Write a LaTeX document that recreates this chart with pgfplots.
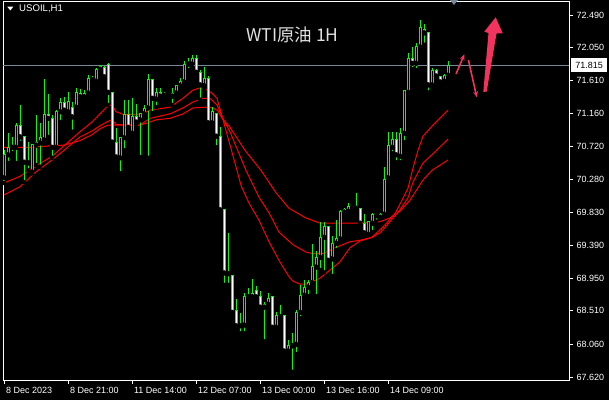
\documentclass[border=0pt]{standalone}
\usepackage{pgfplots}
\pgfplotsset{compat=1.18}
\usepackage{pgfplotstable}
\usepackage{fontspec}
\setmainfont{Liberation Sans}
\newfontfamily\cjk{Noto Sans CJK SC}
\usetikzlibrary{arrows.meta}

\definecolor{candle}{HTML}{00FF00}
\definecolor{maline}{HTML}{FF0000}
\definecolor{bidline}{HTML}{778899}
\definecolor{pen}{HTML}{F2335E}

% hourly candles, rising (close >= open)
\pgfplotstableread{
i O H L C
0 70.30 70.67 70.23 70.61
1 70.61 70.90 70.50 70.71
2 70.71 70.85 70.63 70.74
3 70.71 71.04 70.50 71.01
7 70.38 70.75 70.36 70.75
8 70.74 71.15 70.47 70.77
9 70.77 71.04 70.45 70.84
10 70.81 71.63 70.81 71.15
13 70.71 71.21 70.70 71.19
14 71.19 71.37 71.05 71.31
16 71.19 71.45 71.15 71.32
18 71.25 71.51 71.24 71.45
20 71.39 71.48 71.35 71.44
21 71.44 71.68 71.41 71.64
22 71.62 71.67 71.59 71.63
23 71.60 71.78 71.59 71.76
24 71.76 71.82 71.74 71.80
29 70.57 70.84 70.36 70.84
30 70.84 71.35 70.67 71.15
32 70.90 71.37 70.89 71.13
34 71.08 71.17 70.58 71.16
35 71.16 71.28 71.15 71.23
36 71.24 71.70 70.57 71.62
38 71.36 71.51 71.25 71.45
40 71.41 71.45 71.37 71.43
41 71.43 71.45 71.39 71.44
42 71.40 71.51 71.28 71.44
43 71.44 71.55 71.39 71.54
44 71.54 71.64 71.48 71.59
45 71.59 71.87 71.58 71.83
46 71.83 71.91 71.75 71.84
47 71.83 71.95 71.78 71.90
50 71.54 71.79 71.49 71.63
52 71.04 71.25 71.01 71.19
60 68.32 68.75 68.21 68.70
61 68.70 68.82 68.66 68.72
62 68.70 68.94 68.68 68.75
65 68.56 68.63 68.10 68.60
66 68.60 68.75 68.56 68.68
68 68.29 68.49 68.28 68.45
71 67.97 68.12 67.93 68.04
72 68.04 68.21 67.69 68.06
73 68.06 68.52 67.93 68.49
74 68.49 68.86 68.41 68.72
75 68.72 68.93 68.70 68.82
76 68.83 68.93 68.71 68.89
77 68.89 69.41 68.83 69.11
78 69.10 69.32 68.71 69.23
79 69.23 69.71 69.06 69.50
80 69.50 69.71 69.03 69.64
82 69.21 69.52 68.98 69.42
83 69.42 69.73 69.33 69.48
84 69.48 69.87 69.44 69.85
85 69.84 69.89 69.83 69.88
86 69.85 69.96 69.83 69.91
87 69.89 69.92 69.84 69.91
88 69.89 70.10 69.88 69.92
91 69.54 69.71 69.53 69.71
92 69.69 69.83 69.57 69.80
93 69.79 69.83 69.71 69.80
94 69.77 69.83 69.76 69.81
95 69.81 70.45 69.80 70.28
96 70.30 70.92 70.27 70.73
97 70.71 70.92 70.63 70.82
99 70.59 70.97 70.51 70.90
100 70.90 71.47 70.78 71.47
101 71.45 71.98 71.44 71.91
103 71.84 72.11 71.75 72.06
104 72.06 72.42 72.02 72.32
107 71.55 71.78 71.51 71.75
110 71.60 71.70 71.59 71.68
111 71.68 71.87 71.67 71.815
}\bulls

% hourly candles, falling (close < open)
\pgfplotstableread{
i O H L C
4 71.01 71.28 70.77 70.85
5 70.86 70.86 70.24 70.51
6 70.51 70.78 70.40 70.50
11 71.15 71.43 70.85 71.10
12 71.10 71.15 70.57 70.71
15 71.31 71.39 71.17 71.21
17 71.25 71.32 70.92 71.12
19 71.44 71.49 71.35 71.39
25 71.79 71.80 71.64 71.66
26 71.82 71.84 71.28 71.45
27 71.45 71.45 70.78 70.78
28 70.78 70.97 70.57 70.58
31 71.15 71.35 70.97 70.98
33 71.13 71.29 71.02 71.05
37 71.62 71.62 71.17 71.37
39 71.45 71.51 71.37 71.40
48 71.90 71.95 71.71 71.72
49 71.71 71.75 71.35 71.55
51 71.64 71.67 71.04 71.04
53 71.17 71.17 70.71 70.86
54 70.86 70.98 69.83 69.87
55 69.87 69.88 68.86 69.02
56 69.02 69.56 68.86 69.01
57 68.99 68.99 68.47 68.49
58 68.51 68.67 68.27 68.31
59 68.32 68.48 68.21 68.31
63 68.78 68.84 68.67 68.70
64 68.71 68.78 68.55 68.56
67 68.70 68.70 68.28 68.29
69 68.45 68.59 68.40 68.43
70 68.45 68.45 67.96 67.97
81 69.65 69.65 69.18 69.19
89 69.89 69.89 69.68 69.69
90 69.69 69.81 69.54 69.56
98 70.82 70.92 70.51 70.61
102 71.90 72.06 71.76 71.84
105 72.30 72.37 72.09 72.25
106 72.25 72.26 71.45 71.55
108 71.74 71.76 71.66 71.67
109 71.66 71.67 71.56 71.59
}\bears

\pgfplotsset{
  candle part/.style 2 args={only marks, mark=none, forget plot,
    error bars/.cd, y dir=plus, y explicit, error mark=none,
    error bar style={draw=#1, line width=#2, solid}},
}

\begin{document}
\begin{tikzpicture}
\fill[black] (0,0) rectangle (609pt,400pt);
\begin{axis}[
  at={(3pt,20pt)}, anchor=south west,
  scale only axis, width=566pt, height=379pt,
  xmin=-0.25, xmax=141.25, ymin=67.580, ymax=72.678,
  clip=false,
  axis background/.style={fill=black},
  axis line style={white, line width=1pt},
  tick align=outside, major tick length=4pt,
  tick style={white, line width=1pt},
  xtick pos=lower, ytick pos=upper, yticklabel pos=upper,
  xtick={0,16,32,48,64,80,96},
  xticklabels={8 Dec 2023, 8 Dec 21:00, 11 Dec 14:00, 12 Dec 07:00, 13 Dec 00:00, 13 Dec 16:00, 14 Dec 09:00},
  ytick={67.62,68.06,68.51,68.95,69.39,69.83,70.28,70.72,71.16,71.61,72.05,72.49},
  yticklabels={67.620,68.060,68.510,68.950,69.390,69.830,70.280,70.720,71.160,71.610,72.050,72.490},
  ticklabel style={font=\fontsize{9}{10}\selectfont, text=white},
  xticklabel style={anchor=north west, xshift=-1.5pt},
  yticklabel style={anchor=west},
]
% bid line
\addplot[bidline, line width=1pt, forget plot] coordinates {(-0.25,71.815) (141.25,71.815)};

% moving averages (fast, medium, slow)
\addplot[maline, line width=1pt, forget plot] coordinates {
(0,70.23) (4,70.32) (8,70.46) (12,70.59) (15,70.73) (19,70.92) (22,71.05) (24,71.16) (26,71.27) (27,71.28) (28,71.19) (30,71.15) (33,71.15) (35,71.17) (36.5,71.21) (39,71.23) (41.5,71.25) (44.75,71.37) (47.25,71.48) (49,71.51) (50.5,71.49) (52,71.44) (53.25,71.37) (54.5,71.13) (56,70.84) (58.25,70.40) (59.25,70.20) (61.25,69.96) (63.75,69.73) (66.25,69.44) (68.75,69.19) (71.25,68.97) (72.25,68.91) (74,68.87) (75.5,68.87) (77,68.90) (79,68.95) (81.5,69.06) (84,69.17) (86.5,69.36) (89,69.45) (92,69.50) (94,69.60) (96,69.71) (98,69.84) (99.5,70.00) (101,70.16) (102.25,70.43) (103.5,70.67) (104.75,70.86) (107.25,71.01) (111,71.21)};
\addplot[maline, line width=1pt, forget plot] coordinates {
(0,70.07) (4,70.18) (8,70.38) (12,70.54) (15,70.67) (19,70.85) (22,70.93) (24,71.00) (26,71.06) (27,71.08) (28,71.02) (30,71.01) (34,71.01) (36.5,71.10) (41.5,71.16) (44.75,71.24) (47.25,71.32) (49.75,71.37) (51.5,71.37) (53.25,71.28) (54.5,71.12) (56.5,70.92) (60.5,70.40) (63.75,70.04) (66.25,69.83) (68.75,69.57) (72.25,69.40) (75.5,69.30) (77.25,69.28) (79.75,69.28) (83.25,69.37) (86.5,69.44) (89,69.46) (92,69.50) (94,69.56) (96.5,69.71) (99,69.87) (101,70.03) (102.25,70.24) (104.75,70.50) (107,70.61) (111,70.82)};
\addplot[maline, line width=1pt, forget plot] coordinates {
(0,70.71) (6.5,70.71) (11.5,70.73) (15,70.74) (19,70.80) (22,70.88) (24,70.96) (26,71.01) (28,71.01) (34,71.01) (36,71.04) (38,71.08) (41.5,71.10) (44.75,71.16) (47.25,71.24) (50.25,71.25) (52.25,71.24) (53.5,71.20) (54.5,71.10) (56.5,70.98) (60.25,70.67) (64.25,70.40) (68,70.10) (71.25,69.89) (75.5,69.76) (79,69.69) (84,69.69) (89,69.69) (94,69.71) (96.5,69.76) (99,69.85) (101.5,70.00) (104.75,70.27) (107,70.40) (111,70.54)};

% wicks
\addplot[candle part={candle}{1pt}] table[x=i, y=L, y error plus expr=\thisrow{H}-\thisrow{L}] {\bulls};
\addplot[candle part={candle}{1pt}] table[x=i, y=L, y error plus expr=\thisrow{H}-\thisrow{L}] {\bears};
% bodies: green outline, black (rising) or white (falling) inside
\addplot[candle part={candle}{3pt}] table[x=i, y expr=\thisrow{O}-0.0067, y error plus expr=\thisrow{C}-\thisrow{O}+0.0134] {\bulls};
\addplot[candle part={black}{1pt}] table[x=i, y expr=\thisrow{O}+0.0067, y error plus expr={max(\thisrow{C}-\thisrow{O}-0.0134,0)}] {\bulls};
\addplot[candle part={candle}{3pt}] table[x=i, y expr=\thisrow{C}-0.0067, y error plus expr=\thisrow{O}-\thisrow{C}+0.0134] {\bears};
\addplot[candle part={white}{1pt}] table[x=i, y expr=\thisrow{C}+0.0067, y error plus expr={max(\thisrow{O}-\thisrow{C}-0.0134,0)}] {\bears};

% hand-drawn forecast arrows
\draw[pen, line width=1.6pt, -{Stealth[length=6pt, width=5pt]}] (axis cs:113,71.697) -- (axis cs:115.1,71.961);
\draw[pen, line width=1.6pt, -{Stealth[length=6pt, width=5pt]}] (axis cs:116.1,71.885) -- (axis cs:118.2,71.383);
\fill[pen] (axis cs:119.825,71.454) -- (axis cs:121.125,72.248) -- (axis cs:120.075,72.266) -- (axis cs:122.925,72.459) -- (axis cs:124.675,72.244) -- (axis cs:123.125,72.241) -- (axis cs:120.675,71.461) -- cycle;

% chart shift marker
\fill[bidline] (axis cs:111.5,72.692) -- (axis cs:113.5,72.692) -- (axis cs:112.5,72.625) -- cycle;

% titles
\fill[white] (axis cs:0.825,72.602) -- (axis cs:2.325,72.602) -- (axis cs:1.575,72.551) -- cycle;
\node[anchor=base west, inner sep=0pt, text=white, font=\fontsize{9.6}{10}\selectfont] at (axis cs:3.75,72.535) {USOIL,H1};
\node[anchor=base, inner sep=0pt, text={rgb,255:red,225;green,225;blue,225}, font=\cjk\fontsize{17.5}{18}\selectfont] at (axis cs:72.125,72.131) {WTI原油 1H};

% current price tag
\node[anchor=west, fill=white, text=black, inner sep=0pt, minimum width=36pt, minimum height=14pt, font=\fontsize{9}{10}\selectfont] at ([xshift=2pt]axis cs:141.25,71.815) {71.815};
\end{axis}
\end{tikzpicture}
\end{document}
